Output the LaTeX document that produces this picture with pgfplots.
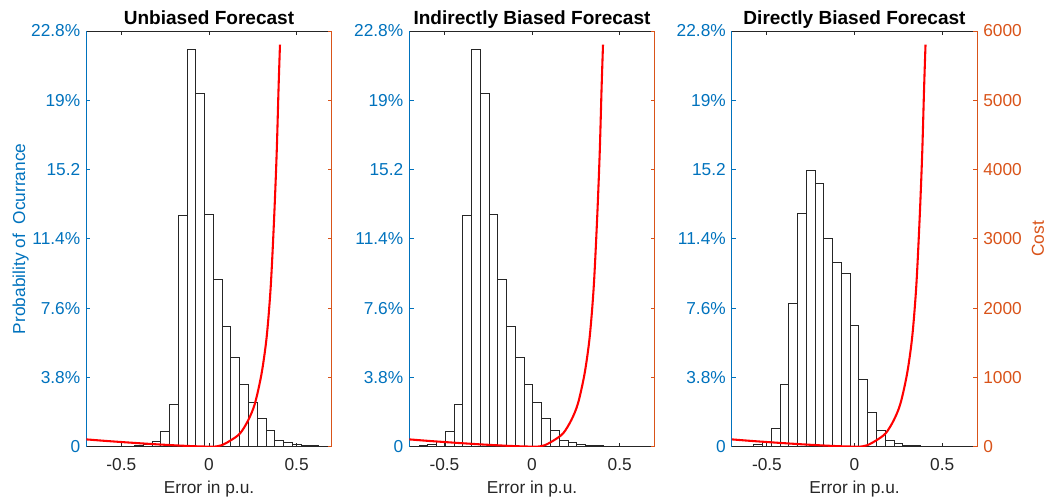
\documentclass[border=0pt]{standalone}
\usepackage{fontspec}
\setmainfont{Liberation Sans}
\usepackage{pgfplots}
\usepackage{pgfplotstable}
\pgfplotsset{compat=1.18}
\definecolor{mblue}{RGB}{0,114,189}
\definecolor{morange}{RGB}{217,83,25}
\definecolor{mgray}{RGB}{38,38,38}

\pgfplotstableread{
x y
-0.50 0.02
-0.45 0.03
-0.40 0.07
-0.35 0.15
-0.30 0.30
-0.25 0.84
-0.20 2.34
-0.15 12.66
-0.10 21.80
-0.05 19.40
0.00 12.74
0.05 9.16
0.10 6.60
0.15 4.89
0.20 3.41
0.25 2.41
0.30 1.55
0.35 0.91
0.40 0.36
0.45 0.24
0.50 0.15
0.55 0.09
0.60 0.05
0.65 0.03
0.70 0.02
}\distA

\pgfplotstableread{
x y
-0.67 0.03
-0.62 0.07
-0.57 0.15
-0.52 0.30
-0.47 0.84
-0.42 2.34
-0.37 12.66
-0.32 21.80
-0.27 19.40
-0.22 12.74
-0.17 9.16
-0.12 6.60
-0.07 4.89
-0.02 3.41
0.03 2.41
0.08 1.55
0.13 0.91
0.18 0.36
0.23 0.24
0.28 0.15
0.33 0.09
0.38 0.05
0.43 0.03
0.48 0.02
}\distB

\pgfplotstableread{
x y
-0.60 0.04
-0.55 0.13
-0.50 0.26
-0.45 1.00
-0.40 3.41
-0.35 7.88
-0.30 12.81
-0.25 15.16
-0.20 14.45
-0.15 11.40
-0.10 10.09
-0.05 9.49
0.00 6.64
0.05 3.69
0.10 1.86
0.15 0.91
0.20 0.36
0.25 0.18
0.30 0.09
0.35 0.05
}\distC

\pgfplotstableread{
x y
-0.70 106
-0.60 86
-0.50 68
-0.40 51
-0.30 35
-0.20 21
-0.10 9
0.00 1
0.025 0
0.07 20
0.12 86
0.177 192
0.224 384
0.262 624
0.300 1057
0.329 1585
0.352 2306
0.371 3267
0.386 4227
0.397 5188
0.405 5803
}\cost

\pgfplotsset{
  common/.style={
    scale only axis, width=141.8pt, height=240.3pt,
    anchor=south west,
    xmin=-0.7, xmax=0.7,
    tick align=inside, major tick length=2.4pt,
    tick label style={font=\fontsize{10}{12}\selectfont},
  },
  barax/.style={
    common,
    ymin=0, ymax=22.8,
    axis y line*=left, axis x line*=box,
    axis on top,
    xtick={-0.5,0,0.5}, xticklabels={-0.5,0,0.5},
    xtick pos=both,
    xticklabel pos=lower,
    xticklabel style={anchor=base, yshift=-13.5pt, text=mgray},
    x axis line style={draw=mgray, line width=0.5pt},
    xtick style={draw=mgray, line width=0.5pt},
    ytick={0,3.8,7.6,11.4,15.2,19,22.8},
    yticklabels={0,3.8\%,7.6\%,11.4\%,15.2,19\%,22.8\%},
    yticklabel style={text=mblue},
    y axis line style={draw=mblue, line width=0.5pt},
    ytick style={draw=mblue, line width=0.5pt},
    xlabel={Error in p.u.},
    xlabel style={at={(axis description cs:0.5,-0.1121)}, anchor=base, text=mgray, font=\fontsize{10}{12}\selectfont},
    every axis title shift=0pt,
    title style={at={(axis description cs:0.5,1.0144)}, anchor=base, yshift=0pt, font=\bfseries\fontsize{11}{13}\selectfont},
  },
  costax/.style={
    common,
    ymin=0, ymax=6000,
    axis y line*=right, axis x line=none,
    scaled y ticks=false,
    ytick={0,1000,2000,3000,4000,5000,6000},
    yticklabel style={text=morange},
    y axis line style={draw=morange, line width=0.5pt},
    ytick style={draw=morange, line width=0.5pt},
  },
  bars/.style={ybar, bar width=0.05, bar shift=0pt, fill=white, draw=mgray, line width=0.5pt},
  costline/.style={red, line width=1.2pt, smooth, no marks},
}

\begin{document}
\begin{tikzpicture}
\path[use as bounding box] (0,0) rectangle (606.3pt,290.2pt);
% Panel 1
\begin{axis}[barax, at={(49.9pt,32pt)}, title={Unbiased Forecast},
  ylabel={Probability of\ \ Ocurrance},
  ylabel style={at={(axis description cs:-0.2498,0.5)}, anchor=base, rotate=0, text=mblue, font=\fontsize{10}{12}\selectfont}]
\addplot[bars] table {\distA};
\end{axis}
\begin{axis}[costax, at={(49.9pt,32pt)}, yticklabels={,,,,,,}]
\addplot[costline] table {\cost};
\end{axis}
% Panel 2
\begin{axis}[barax, at={(236.6pt,32pt)}, title={Indirectly Biased Forecast}]
\addplot[bars] table {\distB};
\end{axis}
\begin{axis}[costax, at={(236.6pt,32pt)}, yticklabels={,,,,,,}]
\addplot[costline] table {\cost};
\end{axis}
% Panel 3
\begin{axis}[barax, at={(423.0pt,32pt)}, title={Directly Biased Forecast}]
\addplot[bars] table {\distC};
\end{axis}
\begin{axis}[costax, at={(423.0pt,32pt)},
  yticklabels={0,1000,2000,3000,4000,5000,6000},
  ylabel={Cost},
  ylabel style={at={(axis description cs:1.2718,0.5)}, anchor=base, rotate=0, text=morange, font=\fontsize{10}{12}\selectfont}]
\addplot[costline] table {\cost};
\end{axis}
\end{tikzpicture}
\end{document}
